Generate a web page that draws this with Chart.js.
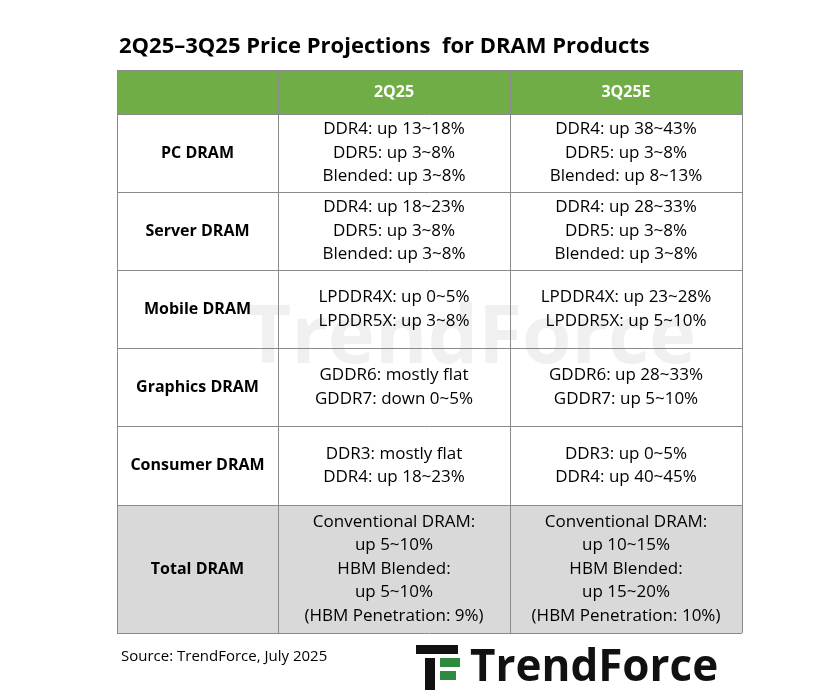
<!DOCTYPE html><html><head><style>body{margin:0;background:#fff}</style>
<script src="https://cdn.jsdelivr.net/npm/chart.js"></script></head><body>
<div style="width:840px;height:700px"><canvas id="c"></canvas></div>
<script>
const title = "2Q25–3Q25 Price Projections  for DRAM Products";
const columns = ["2Q25", "3Q25E"];
const categories = ["PC DRAM","Server DRAM","Mobile DRAM","Graphics DRAM","Consumer DRAM","Total DRAM"];
const q2 = [
 ["DDR4: up 13~18%","DDR5: up 3~8%","Blended: up 3~8%"],
 ["DDR4: up 18~23%","DDR5: up 3~8%","Blended: up 3~8%"],
 ["LPDDR4X: up 0~5%","LPDDR5X: up 3~8%"],
 ["GDDR6: mostly flat","GDDR7: down 0~5%"],
 ["DDR3: mostly flat","DDR4: up 18~23%"],
 ["Conventional DRAM:","up 5~10%","HBM Blended:","up 5~10%","(HBM Penetration: 9%)"]];
const q3 = [
 ["DDR4: up 38~43%","DDR5: up 3~8%","Blended: up 8~13%"],
 ["DDR4: up 28~33%","DDR5: up 3~8%","Blended: up 3~8%"],
 ["LPDDR4X: up 23~28%","LPDDR5X: up 5~10%"],
 ["GDDR6: up 28~33%","GDDR7: up 5~10%"],
 ["DDR3: up 0~5%","DDR4: up 40~45%"],
 ["Conventional DRAM:","up 10~15%","HBM Blended:","up 15~20%","(HBM Penetration: 10%)"]];
const source = "Source: TrendForce, July 2025";

const colX=[117,278,510,742];
const rowY=[70,114,192,270,348,426,505,633];
const tablePlugin={id:'table',afterDraw(ch){
 const g=ch.ctx; g.save();
 g.fillStyle='#000'; g.font='bold 22px "Open Sans"'; g.textBaseline='middle'; g.textAlign='left';
 g.fillText(title,119,47);
 g.globalAlpha=0.06; g.fillStyle='#000'; g.font='bold 80px "Open Sans"'; g.fillText("TrendForce",245,340); g.globalAlpha=1;
 g.fillStyle='#70ad47'; g.fillRect(colX[0],rowY[0],colX[3]-colX[0],rowY[1]-rowY[0]);
 g.fillStyle='#d9d9d9'; g.fillRect(colX[0],rowY[6],colX[3]-colX[0],rowY[7]-rowY[6]);
 g.strokeStyle='#8a8a8a'; g.lineWidth=1;
 rowY.forEach(y=>{g.beginPath();g.moveTo(colX[0],y+.5);g.lineTo(colX[3],y+.5);g.stroke();});
 colX.forEach(x=>{g.beginPath();g.moveTo(x+.5,rowY[0]);g.lineTo(x+.5,rowY[7]);g.stroke();});
 g.textAlign='center';
 g.fillStyle='#fff'; g.font='bold 16px "Open Sans"';
 columns.forEach((c,i)=>g.fillText(c,(colX[i+1]+colX[i+2])/2,92));
 categories.forEach((cat,r)=>{
  const cy=(rowY[r+1]+rowY[r+2])/2;
  g.fillStyle='#000'; g.font='bold 16px "Open Sans"'; g.fillText(cat,(colX[0]+colX[1])/2,cy);
  g.font='17px "Open Sans"';
  [q2,q3].forEach((col,ci)=>{const ls=col[r];const cx=(colX[ci+1]+colX[ci+2])/2;
   ls.forEach((t,k)=>g.fillText(t,cx,cy+(k-(ls.length-1)/2)*23.5));});
 });
 g.textAlign='left'; g.font='15px "Open Sans"'; g.fillText(source,121,657);
 g.fillStyle='#111'; g.fillRect(416,645,42,9); g.fillRect(425,658,10,32);
 g.fillStyle='#2e8b3e'; g.fillRect(440,658,20,9); g.fillRect(440,671,16,9);
 g.fillStyle='#111'; g.font='bold 44px "Open Sans"'; g.fillText("TrendForce",470,668);
 g.restore();}};
new Chart(document.getElementById('c'),{type:'bar',data:{labels:categories,datasets:[{data:[],label:''}]},
 options:{responsive:true,maintainAspectRatio:false,animation:false,plugins:{legend:{display:false},tooltip:{enabled:false}},
 scales:{x:{display:false},y:{display:false}}},plugins:[tablePlugin]});
</script></body></html>
